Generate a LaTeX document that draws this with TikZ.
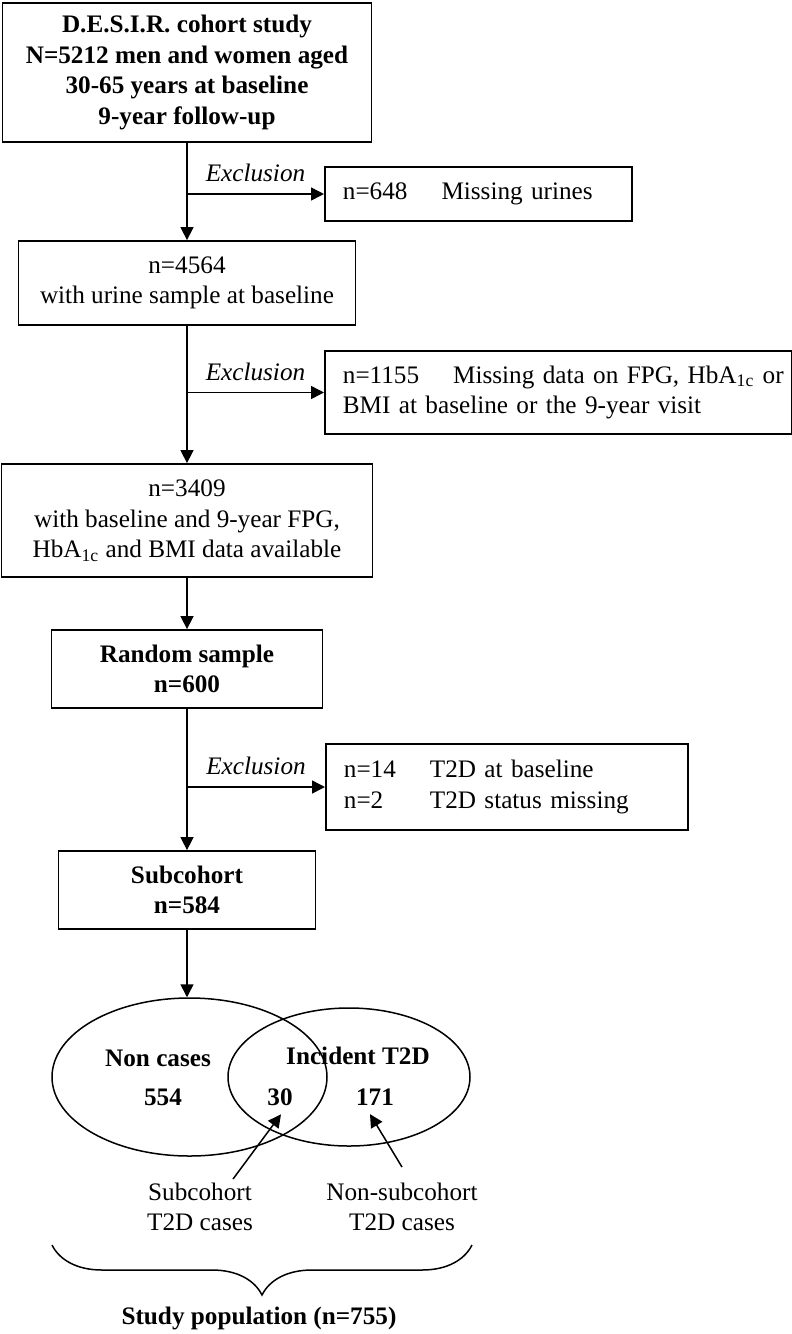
\documentclass[tikz,border=0pt]{standalone}
\usepackage{fontspec}
\setmainfont{Liberation Serif}
\usetikzlibrary{arrows.meta,positioning,calc,shapes.geometric,decorations.pathreplacing}
\tikzset{>={Triangle[length=6.5pt,width=6.5pt]}, line/.style={line width=0.75pt},
box/.style={draw, line width=0.9pt, align=center, inner sep=0pt},
exbox/.style={draw, line width=0.9pt, anchor=west, align=left, inner xsep=9pt, inner ysep=0pt, text width=#1},
venn/.style={draw, ellipse, line width=0.75pt, inner sep=0pt},
excl/.style={font=\itshape, above=1.5pt},
note/.style={align=center}}

\begin{document}
\fontsize{12.6}{15.3}\selectfont
\begin{tikzpicture}[x=0.5pt, y=-0.5pt]
\useasboundingbox (0,0) rectangle (792,1334);
% Main column
\node[box, minimum width=184.5pt, minimum height=69.5pt, font=\bfseries] (desir) at (187,72.5) {D.E.S.I.R. cohort study\\N=5212 men and women aged\\30-65 years at baseline\\9-year follow-up};
\node[box, minimum width=168.5pt, minimum height=42pt] (urine) at (187,283) {n=4564\\with urine sample at baseline};
\node[box, minimum width=185.5pt, minimum height=56.5pt] (fpg) at (187,520.5) {n=3409\\with baseline and 9-year FPG,\\HbA\textsubscript{1c} and BMI data available};
\node[box, minimum width=135.5pt, minimum height=39pt, font=\bfseries] (rand) at (187,669) {Random sample\\n=600};
\node[box, minimum width=128.5pt, minimum height=39pt, font=\bfseries] (subc) at (187,890) {Subcohort\\n=584};

% Exclusions
\node[exbox=135.5pt, minimum height=27pt] (exurine) at (324,194) {n=648\hspace{17pt}Missing urines};
\node[exbox=215.5pt, minimum height=41.5pt] (exdata) at (324,392.5) {\mbox{n=1155\hspace{17pt}Missing data on FPG, HbA\textsubscript{1c} or}\\BMI at baseline or the 9-year visit};
\node[exbox=163pt, minimum height=43pt] (ext2d) at (325,787) {\begin{tabular}{@{}l@{\hspace{17pt}}l@{}}n=14 & T2D at baseline\\n=2 & T2D status missing\end{tabular}};

\draw[line,->] (desir) -- (urine);
\draw[line,->] (desir.south |- exurine.west) -- node[excl] {Exclusion} (exurine);
\draw[line,->] (urine) -- (fpg);
\draw[line,->] (urine.south |- exdata.west) -- node[excl] {Exclusion} (exdata);
\draw[line,->] (fpg) -- (rand);
\draw[line,->] (rand) -- (subc);
\draw[line,->] (rand.south |- ext2d.west) -- node[excl] {Exclusion} (ext2d);

% Venn
\node[venn, minimum width=137.5pt, minimum height=79pt] (nonc) at (189.5,1077) {};
\node[venn, minimum width=121pt, minimum height=69pt] (incid) at (349,1077) {};
\draw[line,->] (subc.south) -- (subc.south |- nonc.north);

\node[font=\bfseries] (noncl) at (158,1058) {Non cases};
\node[font=\bfseries] (n554) at (163,1097) {554};
\node[font=\bfseries] (incl) at (358,1056) {Incident T2D};
\node[font=\bfseries] (n30) at (280,1097) {30};
\node[font=\bfseries] (n171) at (375,1097) {171};

\node[note] (sublab) at (200,1207) {Subcohort\\T2D cases};
\node[note] (nonlab) at (402,1207) {Non-subcohort\\T2D cases};
\draw[line,->] ([shift={(33,5)}]sublab.north) -- ([shift={(1,0)}]n30.south);
\draw[line,->] ([shift={(0,-7)}]nonlab.north) -- ([shift={(-5,0)}]n171.south);

% Brace
\coordinate (brR) at (472,1245);
\coordinate (brL) at (52,1245);
\draw[line, decorate, decoration={brace, amplitude=25pt}] (brR) -- (brL);
\node[font=\bfseries] (popl) at (259,1318) {Study population (n=755)};
\end{tikzpicture}
\end{document}
